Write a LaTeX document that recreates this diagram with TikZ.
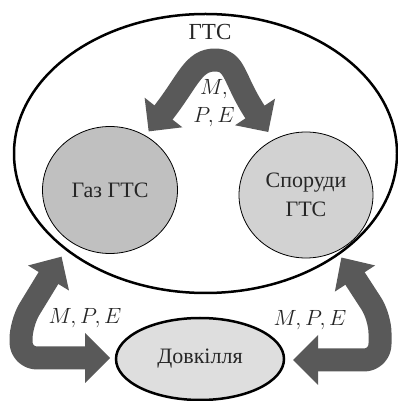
\RequirePackage{fix-cm}
\documentclass[tikz,border=0pt]{standalone}
\usepackage{fontspec}
\setmainfont{Liberation Serif}
\usetikzlibrary{calc,shapes.geometric}
\definecolor{arrowgray}{HTML}{595959}
\definecolor{gasgray}{HTML}{C0C0C0}
\definecolor{sporgray}{HTML}{D2D2D2}
\definecolor{envgray}{HTML}{DEDEDE}
\definecolor{textgray}{HTML}{262626}
\newcommand\myhead[3]{\fill[arrowgray] (#2) -- ($(#1)!#3!90:(#2)$) -- ($(#1)!#3!-90:(#2)$) -- cycle;}
\begin{document}
\begin{tikzpicture}[x=1pt,y=1pt,
  blockarrow/.style={draw=arrowgray, line width=23pt, line cap=butt, line join=round},
  txt/.style={font=\fontsize{22}{29}\selectfont, inner sep=1pt, text=textgray},
  bigshape/.style={ellipse, draw, line width=2.5pt},
  ball/.style={ellipse, draw, line width=0.8pt, align=center, text=textgray, font=\fontsize{22}{29}\selectfont}
  ]
\useasboundingbox (0,0) rectangle (398,401);

% top arrow
\coordinate (tbl) at (163.5,288.5);
\coordinate (tdl) at (188.3,320.1);
\coordinate (tal) at (193,341);
\coordinate (tapex) at (215,341);
\coordinate (tar) at (236,341);
\coordinate (tdr) at (233,322.2);
\coordinate (tbr) at (255,289);
\coordinate (ttl) at ($(tbl)!-24pt!(tdl)$);
\coordinate (ttr) at ($(tbr)!-24pt!(tdr)$);
\draw[blockarrow] ($(tbl)!-1pt!(tdl)$) .. controls (tdl) and (tal) .. (tapex)
   .. controls (tar) and (tdr) .. ($(tbr)!-1pt!(tdr)$);
\myhead{tbl}{ttl}{24pt}
\myhead{tbr}{ttr}{24pt}

% bottom-left arrow
\coordinate (lc1) at (21,78);
\coordinate (lc2) at (21,43);
\coordinate (lb1) at (48.5,123);
\coordinate (lb2) at (85,43);
\coordinate (lt1) at ($(lb1)!-25pt!(lc1)$);
\coordinate (lt2) at ($(lb2)!-25pt!(lc2)$);
\draw[blockarrow, rounded corners=16pt] ($(lb1)!-1pt!(lc1)$) -- (lc1) -- (lc2) -- ($(lb2)!-1pt!(lc2)$);
\myhead{lb1}{lt1}{24pt}
\myhead{lb2}{lt2}{25pt}

% bottom-right arrow
\coordinate (rc1) at (380,84);
\coordinate (rc2) at (380,41);
\coordinate (rb1) at (355,122.5);
\coordinate (rb2) at (318,41);
\coordinate (rt1) at ($(rb1)!-25pt!(rc1)$);
\coordinate (rt2) at ($(rb2)!-25pt!(rc2)$);
\draw[blockarrow, rounded corners=16pt] ($(rb1)!-1pt!(rc1)$) -- (rc1) -- (rc2) -- ($(rb2)!-1pt!(rc2)$);
\myhead{rb1}{rt1}{24pt}
\myhead{rb2}{rt2}{25pt}

% shapes
\node[bigshape, minimum width=383pt, minimum height=279pt] (gts) at (205.5,247.5) {};
\node[ball, fill=gasgray, minimum width=135pt, minimum height=127pt] (gas) at (110,211) {Газ ГТС};
\node[ball, fill=sporgray, minimum width=134pt, minimum height=126pt] (spor) at (306,206) {Споруди\\ГТС};
\node[bigshape, fill=envgray, minimum width=168pt, minimum height=82pt, text=textgray, font=\fontsize{22}{29}\selectfont] (env) at (200,42) {Довкілля};

% labels
\node[txt, font=\fontsize{23}{29}\selectfont] (gtslabel) at (210,369) {ГТС};
\node[txt] (mtop) at (214,312) {$M,$};
\node[txt, fill=white, inner sep=0.5pt] (petop) at (214,284) {$P, E$};
\node[txt] (mpel) at (85,83) {$M, P, E$};
\node[txt] (mper) at (310,81) {$M, P, E$};
\end{tikzpicture}
\end{document}
